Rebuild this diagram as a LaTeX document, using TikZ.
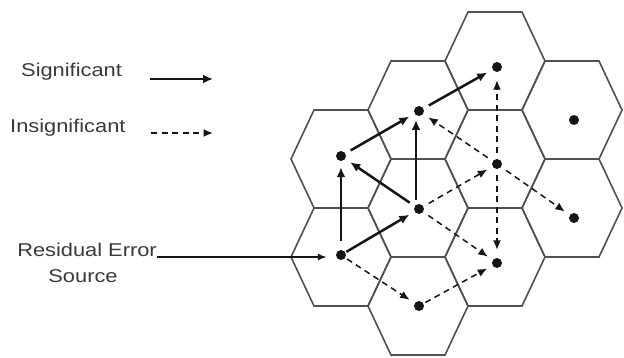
\documentclass[tikz,border=0pt]{standalone}
\usepackage{fontspec}
\setmainfont{Liberation Sans}[FakeStretch=1.18]
\usetikzlibrary{arrows.meta}
\definecolor{txt}{HTML}{3A3A3A}
\definecolor{hexc}{HTML}{505050}
\definecolor{arr}{HTML}{151515}
\begin{document}
\begin{tikzpicture}[x=1pt,y=-1pt,
  hexline/.style={draw=hexc,line width=1.6pt,line join=miter},
  dot/.style={circle,fill=arr,minimum size=10pt,inner sep=0pt},
  sig/.style={draw=arr,line width=2.5pt,-{Latex[length=10pt,width=9pt]},shorten <=6pt,shorten >=6pt},
  insig/.style={draw=arr,line width=1.5pt,dash pattern=on 6pt off 4.5pt,-{Latex[length=9.5pt,width=8pt]},shorten <=6pt,shorten >=6pt},
  lbl/.style={text=txt,font=\fontsize{18.5}{22}\selectfont,inner sep=0pt}]
\useasboundingbox (0,0) rectangle (624,358);
% hexagons
\foreach \cx/\cy in {341/159,341/257,418/110,418/208,418/306,495/61,495/159,495/257,572/110,572/208}
  \draw[hexline,shift={(\cx,\cy)}] (-50,0) -- (-27,-49) -- (27,-49) -- (50,0) -- (27,49) -- (-27,49) -- cycle;
% dots
\node[dot] (d11) at (341,156) {};
\node[dot] (d12) at (341,255) {};
\node[dot] (d21) at (419,111) {};
\node[dot] (d22) at (419,209) {};
\node[dot] (d23) at (419,306) {};
\node[dot] (d31) at (497,67) {};
\node[dot] (d32) at (497,164) {};
\node[dot] (d33) at (497,263) {};
\node[dot] (d41) at (574,120) {};
\node[dot] (d42) at (574,218) {};
% significant
\draw[sig,shorten <=1pt] (d12) -- (d22);
\draw[sig,shorten <=9pt] (d12) -- (d11);
\draw[sig] (d22) -- (d11);
\draw[sig,shorten <=9pt,shorten >=9pt] ([xshift=-3pt]d22.center) -- ([xshift=-3pt]d21.center);
\draw[sig] (d11) -- (d21);
\draw[sig] (d21) -- (d31);
% insignificant
\draw[insig] (d32) -- (d21);
\draw[insig,shorten >=8pt] (d32) -- (d31);
\draw[insig] (d22) -- (d32);
\draw[insig] (d32) -- (d42);
\draw[insig,shorten >=8pt] (d32) -- (d33);
\draw[insig] (d22) -- (d33);
\draw[insig,shorten <=2pt] (d12) -- (d23);
\draw[insig,shorten <=2pt] (d23) -- (d33);
% legend
\node[lbl,anchor=base west] (sigl) at (21,77) {Significant};
\node[lbl,anchor=base west] (insl) at (10,133) {Insignificant};
\coordinate (s1) at (150,79);
\coordinate (s2) at (213,79);
\coordinate (i1) at (151,133);
\coordinate (i2) at (213,133);
\draw[sig,shorten <=0pt,shorten >=0pt] (s1) -- (s2);
\draw[insig,shorten <=0pt,shorten >=0pt] (i1) -- (i2);
% residual error source
\node[lbl,anchor=base east] (res) at (157,257) {Residual Error};
\node[lbl,anchor=base] (src) at (83,283) {Source};
\draw[draw=arr,line width=1.6pt,-{Latex[length=9pt,width=7pt]},shorten >=9pt] (res.base east) -- (res.base east -| d12.west);
\end{tikzpicture}
\end{document}
